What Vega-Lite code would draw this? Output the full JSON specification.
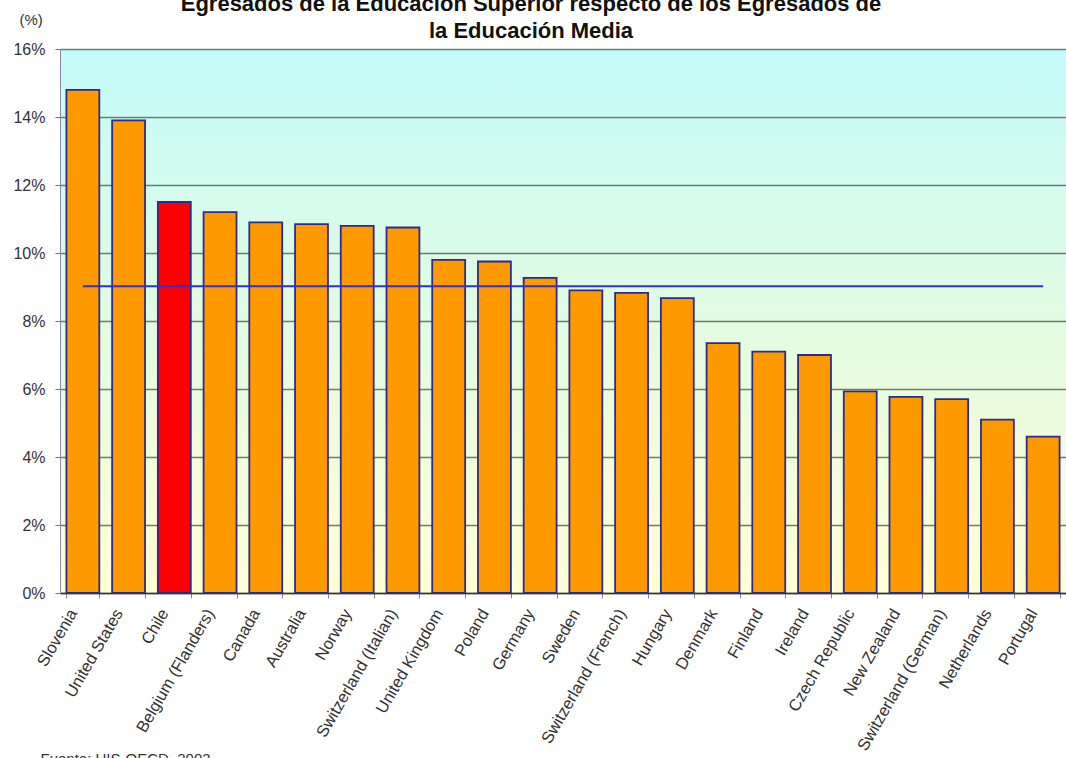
{
  "$schema": "https://vega.github.io/schema/vega-lite/v6.json",
  "width": 1006,
  "height": 544,
  "autosize": {"type": "none"},
  "padding": {"left": 60, "top": 49, "right": 0, "bottom": 165},
  "background": "white",
  "title": {
    "text": ["Egresados de la Educación Superior respecto de los Egresados de", "la Educación Media"],
    "font": "Liberation Sans",
    "fontSize": 22,
    "fontWeight": "bold",
    "lineHeight": 27,
    "color": "#111111",
    "anchor": "middle",
    "baseline": "bottom",
    "dx": -32,
    "dy": 61,
    "offset": 8
  },
  "data": {
    "values": [
      {"pais": "Slovenia", "valor": 14.8},
      {"pais": "United States", "valor": 13.9},
      {"pais": "Chile", "valor": 11.5},
      {"pais": "Belgium (Flanders)", "valor": 11.2},
      {"pais": "Canada", "valor": 10.9},
      {"pais": "Australia", "valor": 10.85},
      {"pais": "Norway", "valor": 10.8},
      {"pais": "Switzerland (Italian)", "valor": 10.75},
      {"pais": "United Kingdom", "valor": 9.8},
      {"pais": "Poland", "valor": 9.75},
      {"pais": "Germany", "valor": 9.27},
      {"pais": "Sweden", "valor": 8.9},
      {"pais": "Switzerland (French)", "valor": 8.83},
      {"pais": "Hungary", "valor": 8.67},
      {"pais": "Denmark", "valor": 7.35},
      {"pais": "Finland", "valor": 7.1},
      {"pais": "Ireland", "valor": 7.0},
      {"pais": "Czech Republic", "valor": 5.93},
      {"pais": "New Zealand", "valor": 5.77},
      {"pais": "Switzerland (German)", "valor": 5.7},
      {"pais": "Netherlands", "valor": 5.1},
      {"pais": "Portugal", "valor": 4.6}
    ]
  },
  "transform": [
    {"joinaggregate": [{"op": "mean", "field": "valor", "as": "promedio"}]}
  ],
  "encoding": {
    "x": {
      "field": "pais",
      "type": "nominal",
      "sort": null,
      "scale": {"paddingInner": 0.28, "paddingOuter": 0.14},
      "axis": {
        "title": "Fuente: UIS-OECD, 2003",
        "titleFont": "Liberation Sans",
        "titleFontSize": 15,
        "titleFontWeight": "normal",
        "titleColor": "#333333",
        "titleAnchor": "start",
        "titleAlign": "left",
        "titleBaseline": "top",
        "titleX": -20,
        "titleY": 158,
        "labelAngle": -60,
        "labelFont": "Liberation Sans",
        "labelFontSize": 16.5,
        "labelColor": "#333333",
        "labelPadding": 12,
        "labelOffset": -10,
        "labelOverlap": false,
        "tickBand": "extent",
        "tickColor": "#8a8a8a",
        "tickSize": 5,
        "domainColor": "#333333",
        "domainWidth": 1.5
      }
    }
  },
  "layer": [
    {
      "mark": {"type": "bar", "stroke": "#2b2b8c", "strokeWidth": 1.8},
      "encoding": {
        "y": {
          "field": "valor",
          "type": "quantitative",
          "scale": {"domain": [0, 16], "nice": false},
          "axis": {
            "values": [0, 2, 4, 6, 8, 10, 12, 14, 16],
            "labelExpr": "datum.value + '%'",
            "labelFont": "Liberation Sans",
            "labelFontSize": 16,
            "labelColor": "#333333",
            "labelPadding": 10,
            "tickColor": "#777777",
            "tickSize": 5,
            "domainColor": "#8a8aa8",
            "grid": true,
            "gridColor": "#6f7a75",
            "gridWidth": 1.3,
            "title": "(%)",
            "titleAngle": 0,
            "titleFont": "Liberation Sans",
            "titleFontSize": 15,
            "titleFontWeight": "normal",
            "titleColor": "#333333",
            "titleAlign": "left",
            "titleBaseline": "middle",
            "titleX": -41,
            "titleY": -30
          }
        },
        "color": {
          "condition": {"test": "datum.pais === 'Chile'", "value": "#ff0000"},
          "value": "#ff9900"
        }
      }
    },
    {
      "mark": {"type": "line", "color": "#2f2fd6", "strokeWidth": 2},
      "encoding": {
        "y": {"field": "promedio", "type": "quantitative"}
      }
    }
  ],
  "config": {
    "view": {
      "stroke": null,
      "fill": {
        "gradient": "linear",
        "x1": 0, "y1": 0, "x2": 0, "y2": 1,
        "stops": [
          {"offset": 0, "color": "#c4fbfb"},
          {"offset": 0.5, "color": "#e2fbe2"},
          {"offset": 1, "color": "#ffffd4"}
        ]
      }
    }
  }
}
